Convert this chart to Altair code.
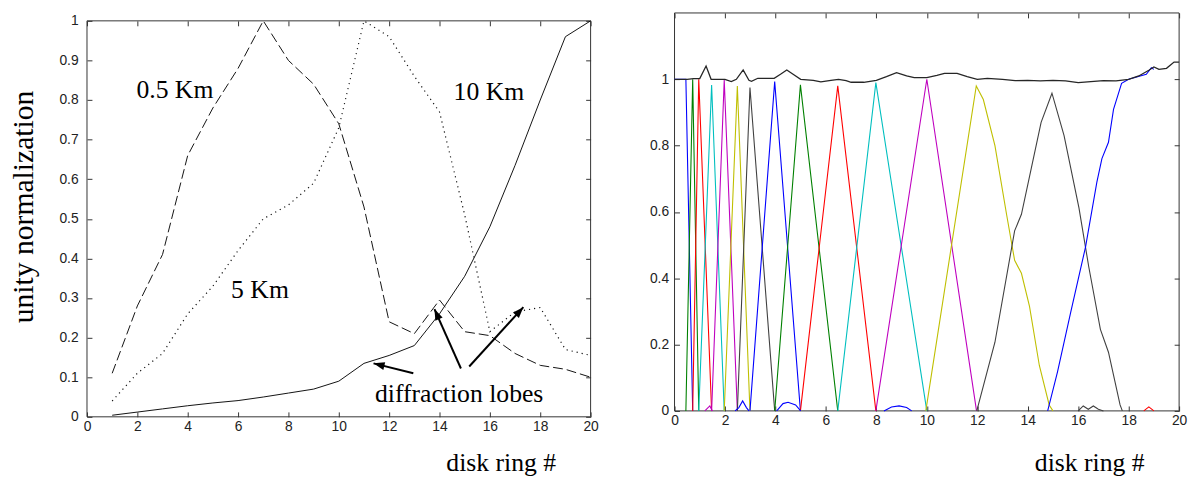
import math
import altair as alt
import pandas as pd

# ---------------- Left panel data ----------------
rings = list(range(1, 21))
km05 = [0.11, 0.28, 0.41, 0.66, 0.78, 0.88, 1.0, 0.90, 0.84, 0.74,
        0.53, 0.24, 0.21, 0.295, 0.215, 0.205, 0.16, 0.13, 0.12, 0.10]
km5 = [0.04, 0.11, 0.16, 0.26, 0.33, 0.42, 0.50, 0.535, 0.59, 0.73,
       1.0, 0.96, 0.86, 0.77, 0.51, 0.215, 0.265, 0.276, 0.17, 0.155]
km10 = [0.004, 0.012, 0.02, 0.028, 0.035, 0.041, 0.05, 0.06, 0.07, 0.09,
        0.135, 0.155, 0.18, 0.26, 0.355, 0.48, 0.635, 0.80, 0.96, 1.0]

ann_text = ["0.5 Km", "10 Km", "5 Km", "diffraction lobes"]
ann_x = [3.49, 15.96, 6.87, 14.78]
ann_y = [0.805, 0.80, 0.299, 0.037]

arrow_x0 = [12.96, 14.85, 15.18]
arrow_y0 = [0.11, 0.122, 0.127]
arrow_x1 = [11.38, 13.8, 17.33]
arrow_y1 = [0.135, 0.272, 0.277]

x_ticks = [0, 2, 4, 6, 8, 10, 12, 14, 16, 18, 20]
yL_ticks = [0, 0.1, 0.2, 0.3, 0.4, 0.5, 0.6, 0.7, 0.8, 0.9, 1]
yR_ticks = [0, 0.2, 0.4, 0.6, 0.8, 1]

# axis box limits (data units) of each panel
frame_x = [0, 20]
frame_yL = [0, 1]
frame_yR = [0, 1.2]

# ---------------- Right panel data ----------------
curve_color = ["b", "g", "r", "c", "m", "y", "k", "b", "g", "r", "c", "m", "y", "k", "b",
               "b", "b", "b", "k", "r", "m"]
curve_x = [
    [0.0, 0.45, 0.72],
    [0.45, 0.72, 0.96],
    [0.72, 0.96, 1.47],
    [0.96, 1.47, 1.97],
    [1.47, 1.97, 2.49],
    [1.97, 2.49, 2.99],
    [2.49, 2.99, 3.97],
    [2.99, 3.97, 4.99],
    [3.97, 4.99, 6.47],
    [4.99, 6.47, 7.98],
    [6.47, 7.98, 10.0],
    [7.98, 10.0, 11.97],
    [9.96, 11.96, 12.24, 12.7, 13.16, 13.48, 13.75, 14.07, 14.46, 14.85, 15.0],
    [11.98, 12.7, 13.48, 13.75, 14.14, 14.53, 14.96, 15.44, 16.03, 16.42, 16.88, 17.2, 17.66, 17.75],
    [14.79, 15.18, 15.7, 16.29, 16.74, 16.94, 17.2, 17.4, 17.72, 18.0, 18.7, 18.9, 19.0],
    [2.4, 2.55, 2.7, 2.85, 2.95],
    [4.05, 4.3, 4.5, 4.8, 5.0],
    [8.3, 8.6, 8.9, 9.2, 9.4],
    [16.0, 16.2, 16.4, 16.6, 16.8, 17.0],
    [18.6, 18.8, 19.0],
    [1.2, 1.4, 1.5],
]
curve_y = [
    [1.0, 1.0, 0.0],
    [0.0, 1.0, 0.0],
    [0.0, 1.0, 0.0],
    [0.0, 0.983, 0.0],
    [0.0, 0.998, 0.0],
    [0.0, 0.98, 0.0],
    [0.0, 0.975, 0.0],
    [0.0, 0.993, 0.0],
    [0.0, 0.983, 0.0],
    [0.0, 0.98, 0.0],
    [0.0, 0.99, 0.0],
    [0.0, 1.0, 0.0],
    [0.0, 0.98, 0.939, 0.80, 0.593, 0.454, 0.415, 0.315, 0.137, 0.018, 0.0],
    [0.0, 0.207, 0.543, 0.593, 0.731, 0.87, 0.958, 0.83, 0.612, 0.434, 0.246, 0.177, 0.018, 0.0],
    [0.0, 0.118, 0.296, 0.494, 0.69, 0.761, 0.81, 0.909, 0.988, 1.0, 1.015, 1.035, 1.03],
    [0.0, 0.01, 0.03, 0.01, 0.0],
    [0.0, 0.022, 0.026, 0.018, 0.0],
    [0.0, 0.012, 0.015, 0.01, 0.0],
    [0.0, 0.015, 0.005, 0.015, 0.005, 0.0],
    [0.0, 0.012, 0.0],
    [0.0, 0.015, 0.0],
]
sum_x = [0, 0.5, 0.75, 1.0, 1.25, 1.45, 1.6, 2.0, 2.25, 2.45, 2.72, 2.95, 3.05, 3.3, 3.95,
         4.2, 4.45, 4.7, 5.0, 5.5, 5.8, 6.2, 6.5, 6.8, 7.0, 7.5, 8.0, 8.4, 8.8, 9.2, 9.5,
         10.0, 10.4, 10.7, 11.2, 11.6, 12.0, 12.4, 13.0, 13.5, 14.0, 14.5, 15.0, 15.5,
         16.0, 16.5, 17.0, 17.5, 18.0, 18.4, 18.8, 19.0, 19.2, 19.5, 19.8, 20.0]
sum_y = [1.0, 1.0, 1.002, 1.002, 1.04, 1.0, 1.0, 1.0, 0.993, 1.0, 1.028, 0.997, 0.994, 1.003, 1.003,
         1.015, 1.028, 1.015, 1.0, 0.997, 0.992, 0.997, 1.0, 0.996, 0.991, 0.991, 0.997, 1.008, 1.02, 1.01, 1.005,
         1.005, 1.012, 1.018, 1.018, 1.008, 1.0, 1.003, 1.0, 0.996, 0.997, 0.995, 0.997, 0.995,
         0.99, 0.993, 0.996, 0.995, 1.0, 1.01, 1.027, 1.037, 1.03, 1.033, 1.052, 1.052]

color_keys = ["b", "g", "r", "c", "m", "y", "k"]
color_vals = ["#0000ff", "#008000", "#ff0000", "#00bfbf", "#bf00bf", "#bfbf00", "#404040"]

# ---------------- styling / geometry ----------------
W_L, W_R, H = 510, 511, 409          # both plot areas span the same vertical band
PXU_L = 401.0                          # px per unit (left panel)
TOP_GAP_L = H - PXU_L * frame_yL[1]    # empty band above left box (px)
PXU_R = 403.0 / frame_yR[1]            # px per unit (right panel)
BOT_GAP_R = 6.0                        # right box sits this much above the shared bottom
BORDER = "#333333"
SERIF = "Liberation Serif"
SANS = "Liberation Sans"


def axis(orient, values, labels=True, fmt="~g", pad=3, lfs=14, off=0.0, **kw):
    return alt.Axis(orient=orient, values=values, offset=-5 - off, tickSize=5, domain=False,
                    grid=False, labels=labels, format=fmt, labelFont=SANS, labelFontSize=lfs,
                    labelColor="#222222", labelPadding=pad, labelFlush=False,
                    labelOverlap=False, tickColor=BORDER, **kw)


# ---------------- left panel ----------------
dfL = pd.DataFrame({"ring": rings, "km05": km05, "km5": km5, "km10": km10})
xs = alt.Scale(domain=frame_x, nice=False)
ysL = alt.Scale(domain=[frame_yL[0], H / PXU_L], nice=False)

frameL = alt.Chart(pd.DataFrame({"x": [frame_x[0]], "x2": [frame_x[1]],
                                 "y": [frame_yL[0]], "y2": [frame_yL[1]]})).mark_rect(
    fill="transparent", stroke=BORDER, strokeWidth=1).encode(
    x=alt.X("x:Q", scale=xs, axis=None), x2="x2:Q",
    y=alt.Y("y:Q", scale=ysL, axis=None), y2="y2:Q")

dash_layer = alt.Chart(dfL).mark_line(color="#111111", strokeWidth=1, strokeDash=[10, 4]).encode(
    x=alt.X("ring:Q", scale=xs,
            axis=axis("bottom", x_ticks, title="disk ring #", titleFont=SERIF, titleFontSize=26,
                      titleFontWeight="normal", titleColor="black", titleX=419, titleY=59,
                      titleAlign="center", titleBaseline="alphabetic")),
    y=alt.Y("km05:Q", scale=ysL,
            axis=axis("left", yL_ticks, pad=9, title="unity normalization", titleFont=SERIF,
                      titleFontSize=30, titleFontWeight="normal", titleColor="black",
                      titleX=-69.5, titleY=196, titleAngle=270, titleAlign="center",
                      titleBaseline="middle")),
)
dot_layer = alt.Chart(dfL).mark_line(color="#111111", strokeWidth=1.2, strokeDash=[1.2, 4]).encode(
    x=alt.X("ring:Q", scale=xs,
            axis=axis("top", x_ticks, labels=False, title=None, off=TOP_GAP_L)),
    y=alt.Y("km5:Q", scale=ysL, axis=axis("right", yL_ticks, labels=False, title=None)),
)
solid_layer = alt.Chart(dfL).mark_line(color="#111111", strokeWidth=1).encode(
    x=alt.X("ring:Q", scale=xs, axis=None),
    y=alt.Y("km10:Q", scale=ysL, axis=None),
)

dfA = pd.DataFrame({"t": ann_text, "x": ann_x, "y": ann_y})
text_layer = alt.Chart(dfA).mark_text(font=SERIF, fontSize=26, color="black", align="center",
                                      baseline="alphabetic").encode(
    x=alt.X("x:Q", scale=xs, axis=None), y=alt.Y("y:Q", scale=ysL, axis=None), text="t:N")

angles = []
for x0, y0, x1, y1 in zip(arrow_x0, arrow_y0, arrow_x1, arrow_y1):
    dx = (x1 - x0) * W_L / 20.0
    dy = -(y1 - y0) * PXU_L
    angles.append(math.degrees(math.atan2(dx, -dy)) % 360)
dfR = pd.DataFrame({"x0": arrow_x0, "y0": arrow_y0, "x1": arrow_x1, "y1": arrow_y1, "ang": angles})
arrow_lines = alt.Chart(dfR).mark_rule(color="black", strokeWidth=2).encode(
    x=alt.X("x0:Q", scale=xs, axis=None), y=alt.Y("y0:Q", scale=ysL, axis=None),
    x2="x1:Q", y2="y1:Q")
arrow_heads = alt.Chart(dfR).mark_point(shape="M0,0L-0.36,1L0.36,1Z", filled=True, size=500,
                                        color="black", opacity=1).encode(
    x=alt.X("x1:Q", scale=xs, axis=None), y=alt.Y("y1:Q", scale=ysL, axis=None),
    angle=alt.Angle("ang:Q", scale=None))

left = alt.layer(frameL, dash_layer, dot_layer, solid_layer, text_layer, arrow_lines,
                 arrow_heads).properties(width=W_L, height=H)

# ---------------- right panel ----------------
rows = []
for i, (c, xv, yv) in enumerate(zip(curve_color, curve_x, curve_y)):
    for a, b in zip(xv, yv):
        rows.append({"cid": i, "col": c, "x": a, "y": b})
dfC = pd.DataFrame(rows)
dfS = pd.DataFrame({"x": sum_x, "y": sum_y})
ysR = alt.Scale(domain=[frame_yR[0] - BOT_GAP_R / PXU_R, frame_yR[1]], nice=False)

frameR = alt.Chart(pd.DataFrame({"x": [frame_x[0]], "x2": [frame_x[1]],
                                 "y": [frame_yR[0]], "y2": [frame_yR[1]]})).mark_rect(
    fill="transparent", stroke=BORDER, strokeWidth=1).encode(
    x=alt.X("x:Q", scale=xs, axis=None), x2="x2:Q",
    y=alt.Y("y:Q", scale=ysR, axis=None), y2="y2:Q")

curves = alt.Chart(dfC).mark_line(strokeWidth=1.1).encode(
    x=alt.X("x:Q", scale=xs,
            axis=axis("bottom", x_ticks, title="disk ring #", titleFont=SERIF, titleFontSize=26,
                      titleFontWeight="normal", titleColor="black", titleX=420, titleY=65,
                      titleAlign="center", titleBaseline="alphabetic", off=BOT_GAP_R)),
    y=alt.Y("y:Q", scale=ysR, axis=axis("left", yR_ticks, pad=6, title=None)),
    color=alt.Color("col:N", scale=alt.Scale(domain=color_keys, range=color_vals), legend=None),
    detail="cid:N",
)
sum_line = alt.Chart(dfS).mark_line(color="#262626", strokeWidth=1.3).encode(
    x=alt.X("x:Q", scale=xs, axis=axis("top", x_ticks, labels=False, title=None)),
    y=alt.Y("y:Q", scale=ysR, axis=axis("right", yR_ticks, labels=False, title=None)),
)
right = alt.layer(frameR, curves, sum_line).properties(width=W_R, height=H)

chart = alt.hconcat(left, right, spacing=50).properties(
    padding={"left": 0, "top": 1, "right": 0, "bottom": 4},
    background="white",
).configure_view(stroke="transparent")

chart.save("out.html", embed_options={"renderer": "svg", "actions": False})
